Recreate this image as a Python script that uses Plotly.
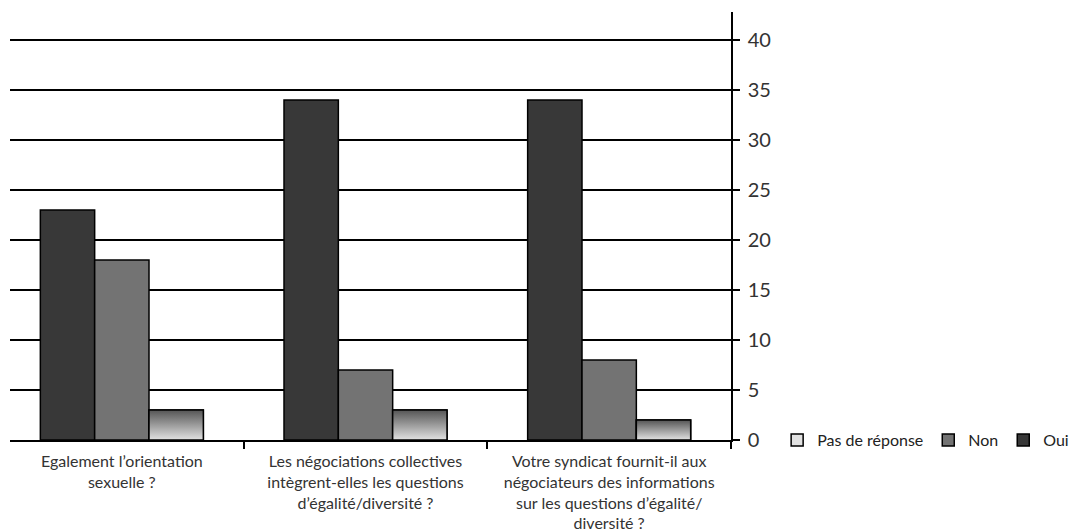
import plotly.graph_objects as go

categories = [
    "Egalement l’orientation<br>sexuelle ?",
    "Les négociations collectives<br>intègrent-elles les questions<br>d’égalité/diversité ?",
    "Votre syndicat fournit-il aux<br>négociateurs des informations<br>sur les questions d’égalité/<br>diversité ?",
]
oui = [23, 34, 34]
non = [18, 7, 8]
pas_de_reponse = [3, 3, 2]
y_ticks = [0, 5, 10, 15, 20, 25, 30, 35, 40]

x_pos = list(range(len(categories)))
bar_w = 0.223
font_family = "Lato, 'Open Sans', sans-serif"

fig = go.Figure()

series = [
    ("Oui", oui, "#383838", -1.5 * bar_w),
    ("Non", non, "#737373", -0.5 * bar_w),
    ("Pas de réponse", pas_de_reponse, "#e2e2e2", 0.5 * bar_w),
]
for name, vals, color, off in series:
    fig.add_trace(go.Bar(
        name=name, x=x_pos, y=vals,
        width=bar_w, offset=off,
        marker=dict(color=color, line=dict(color="#000000", width=1.5)),
    ))

# gradient fill for the "Pas de réponse" bars, one polygon per bar
off = 0.5 * bar_w
for xi, v in zip(x_pos, pas_de_reponse):
    x0, x1 = xi + off, xi + off + bar_w
    fig.add_trace(go.Scatter(
        x=[x0, x1, x1, x0, x0], y=[0, 0, v, v, 0],
        mode="lines", fill="toself",
        line=dict(color="#000000", width=1.5),
        fillgradient=dict(type="vertical",
                          colorscale=[[0, "#e2e2e2"], [1, "#555555"]]),
        showlegend=False, hoverinfo="skip",
    ))

fig.update_layout(
    width=1070, height=531,
    margin=dict(l=10, r=339, t=12, b=91, autoexpand=False),
    paper_bgcolor="#ffffff", plot_bgcolor="#ffffff",
    barmode="overlay",
    showlegend=True,
    legend=dict(
        orientation="h", traceorder="reversed",
        x=1.064, xanchor="left", y=0.0, yanchor="middle",
        font=dict(family=font_family, size=16, color="#222222"),
        itemwidth=30, tracegroupgap=0,
    ),
    font=dict(family=font_family, color="#333333"),
)

fig.update_xaxes(
    range=[-0.459, 2.5], automargin=False,
    tickvals=x_pos, ticktext=categories,
    ticks="", showgrid=False, ticklabelstandoff=6,
    tickfont=dict(family=font_family, size=16, color="#333333"),
    showline=True, linecolor="#000000", linewidth=1.5,
    minor=dict(tickvals=[0.5, 1.5, 2.5], ticks="outside", ticklen=7,
               tickcolor="#000000", tickwidth=1.5, showgrid=False),
    zeroline=False,
)
fig.update_yaxes(
    range=[0, 42.8], side="right", automargin=False,
    tickvals=y_ticks, ticktext=[str(t) for t in y_ticks],
    showgrid=True, gridcolor="#000000", gridwidth=1.5,
    ticks="outside", ticklen=7, tickcolor="#000000", tickwidth=1.5,
    showline=True, linecolor="#000000", linewidth=1.5,
    tickfont=dict(family=font_family, size=20, color="#333333"),
    ticklabelstandoff=4,
    zeroline=False,
)

fig.write_html("out.html")
